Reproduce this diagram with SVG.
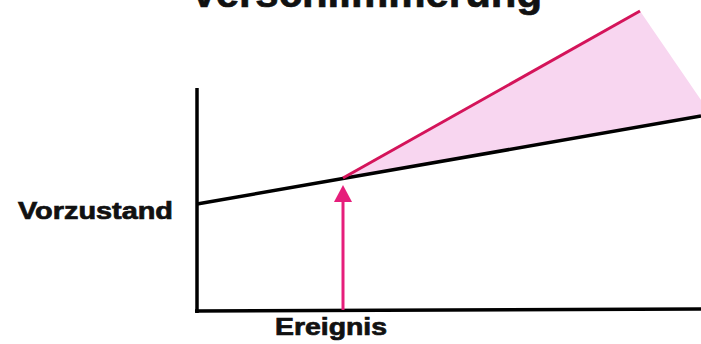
<svg xmlns="http://www.w3.org/2000/svg" width="701" height="344" viewBox="0 0 701 344">
<style>
.lbl{font-family:"Liberation Sans",Arial,Helvetica,sans-serif;font-weight:bold;fill:#111;stroke:#111;stroke-width:0.7}
.axis{stroke:#000;stroke-width:3.5;fill:none}
</style>
<rect width="701" height="344" fill="#fff"/>
<text class="lbl" x="190" y="7" font-size="40" textLength="352" lengthAdjust="spacingAndGlyphs" stroke-width="1.2">Verschlimmerung</text>
<g id="area">
<polygon points="343,178 640,11 701,100 701,116" fill="#f8d6f0"/>
</g>
<g id="axes">
<line class="axis" x1="197" y1="88" x2="197" y2="313"/>
<line class="axis" x1="195" y1="311" x2="701" y2="309"/>
</g>
<g id="connectors">
<line x1="197" y1="204" x2="701" y2="116" stroke="#000" stroke-width="3.5"/>
<line x1="343" y1="178" x2="640" y2="11" stroke="#d4145a" stroke-width="3"/>
<line x1="343" y1="310" x2="343" y2="198" stroke="#e61e7b" stroke-width="3"/>
<polygon points="343,185 334,202 352,202" fill="#e61e7b"/>
</g>
<g id="vorzustand">
<text class="lbl" x="18" y="219" font-size="23" textLength="155" lengthAdjust="spacingAndGlyphs">Vorzustand</text>
</g>
<g id="ereignis">
<text class="lbl" x="275" y="335" font-size="23" textLength="112" lengthAdjust="spacingAndGlyphs">Ereignis</text>
</g>
</svg>
